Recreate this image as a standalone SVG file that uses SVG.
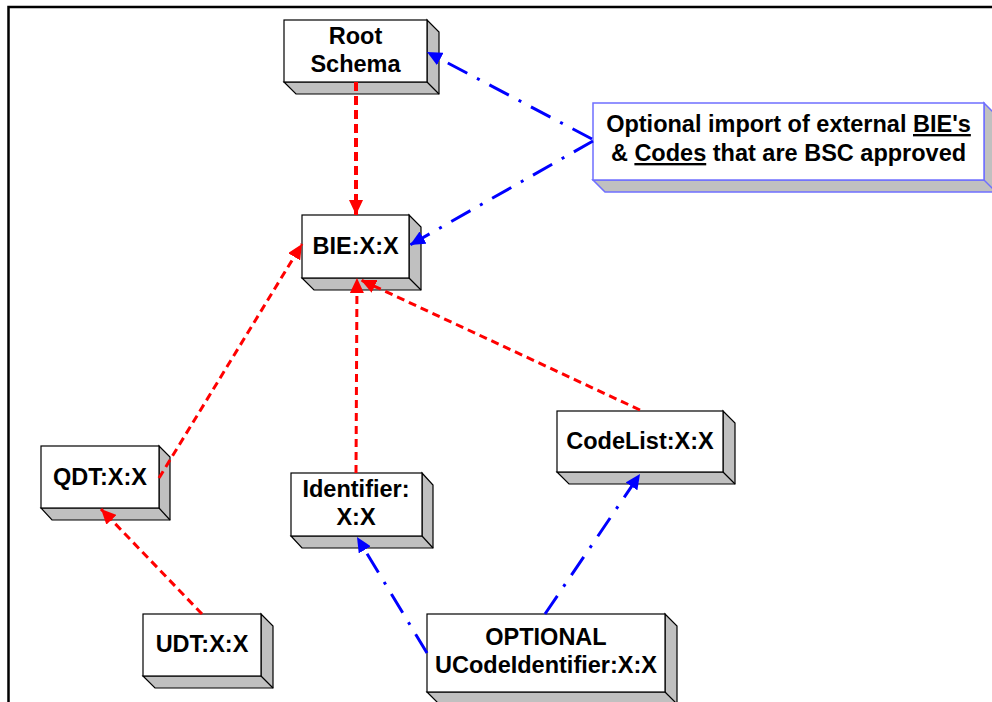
<svg xmlns="http://www.w3.org/2000/svg" width="992" height="702" viewBox="0 0 992 702">
<style>
  .front { fill: #ffffff; stroke: #000000; stroke-width: 1.2; }
  .side { fill: #c0c0c0; stroke: #000000; stroke-width: 1.2; stroke-linejoin: miter; }
  .edge { stroke: #000000; stroke-width: 1.2; }
  .bfront { fill: #ffffff; stroke: #6f6fff; stroke-width: 1.5; }
  .bside { fill: #c0c0c0; stroke: #6f6fff; stroke-width: 1.5; }
  .bedge { stroke: #6f6fff; stroke-width: 1.5; }
  .lbl { font-family: "Liberation Sans", Arial, sans-serif; font-weight: bold; font-size: 23.5px; fill: #000000; text-anchor: middle; }
  .red { fill: none; stroke: #ff0000; stroke-width: 3; stroke-dasharray: 8 5; }
  .redb { fill: none; stroke: #ff0000; stroke-width: 4; stroke-dasharray: 9 5; }
  .blue { fill: none; stroke: #0000ff; stroke-width: 3; stroke-dasharray: 22 11 3 11; }
</style>
<defs>
  <marker id="ar" markerUnits="userSpaceOnUse" markerWidth="16" markerHeight="14" refX="15" refY="7" orient="auto">
    <path d="M0,0 L15,7 L0,14 Z" fill="#ff0000"/>
  </marker>
  <marker id="ab" markerUnits="userSpaceOnUse" markerWidth="16" markerHeight="14" refX="15" refY="7" orient="auto">
    <path d="M0,0 L15,7 L0,14 Z" fill="#0000ff"/>
  </marker>
</defs>
<rect x="0" y="0" width="992" height="702" fill="#ffffff"/>
<rect x="8.5" y="7" width="1010" height="720" fill="none" stroke="#000000" stroke-width="2.5"/>

<g id="root-schema">
  <polygon class="side" points="427,20 439,32 439,94 296,94 284,82 427,82"/>
  <line class="edge" x1="427" y1="82" x2="439" y2="94"/>
  <rect class="front" x="284" y="20" width="143" height="62"/>
  <text class="lbl" x="355.5" y="43.5">Root</text>
  <text class="lbl" x="355.5" y="71.5">Schema</text>
</g>

<g id="optional-import">
  <polygon class="bside" points="984,103 996,115 996,192 605,192 593,180 984,180"/>
  <line class="bedge" x1="984" y1="180" x2="996" y2="192"/>
  <rect class="bfront" x="593" y="103" width="391" height="77"/>
  <text class="lbl" x="788.5" y="132">Optional import of external <tspan text-decoration="underline">BIE's</tspan></text>
  <text class="lbl" x="788.5" y="161">&amp; <tspan text-decoration="underline">Codes</tspan> that are BSC approved</text>
</g>

<g id="bie">
  <polygon class="side" points="409,215 421,227 421,290 314,290 302,278 409,278"/>
  <line class="edge" x1="409" y1="278" x2="421" y2="290"/>
  <rect class="front" x="302" y="215" width="107" height="63"/>
  <text class="lbl" x="355.7" y="254">BIE:X:X</text>
</g>

<g id="qdt">
  <polygon class="side" points="159,446 170,457 170,520 52,520 41,508 159,508"/>
  <line class="edge" x1="159" y1="508" x2="170" y2="520"/>
  <rect class="front" x="41" y="446" width="118" height="62"/>
  <text class="lbl" x="100" y="485">QDT:X:X</text>
</g>

<g id="identifier">
  <polygon class="side" points="422,473 433,485 433,548 302,548 291,536 422,536"/>
  <line class="edge" x1="422" y1="536" x2="433" y2="548"/>
  <rect class="front" x="291" y="473" width="131" height="63"/>
  <text class="lbl" x="356" y="497">Identifier:</text>
  <text class="lbl" x="356" y="525">X:X</text>
</g>

<g id="codelist">
  <polygon class="side" points="723,411 735,423 735,484 569,484 557,472 723,472"/>
  <line class="edge" x1="723" y1="472" x2="735" y2="484"/>
  <rect class="front" x="557" y="411" width="166" height="61"/>
  <text class="lbl" x="640" y="448.5">CodeList:X:X</text>
</g>

<g id="udt">
  <polygon class="side" points="261,614 273,626 273,688 155,688 143,676 261,676"/>
  <line class="edge" x1="261" y1="676" x2="273" y2="688"/>
  <rect class="front" x="143" y="614" width="118" height="62"/>
  <text class="lbl" x="202" y="652">UDT:X:X</text>
</g>

<g id="optional-ucode">
  <polygon class="side" points="665,614 677,626 677,704 439,704 427,692 665,692"/>
  <line class="edge" x1="665" y1="692" x2="677" y2="704"/>
  <rect class="front" x="427" y="614" width="238" height="78"/>
  <text class="lbl" x="546" y="645">OPTIONAL</text>
  <text class="lbl" x="546" y="673">UCodeIdentifier:X:X</text>
</g>

<g id="connectors">
  <line class="redb" x1="356" y1="82" x2="356" y2="215" marker-end="url(#ar)"/>
  <line class="blue" x1="592" y1="139" x2="427" y2="52" marker-end="url(#ab)"/>
  <line class="blue" x1="593" y1="141" x2="410" y2="245" marker-end="url(#ab)"/>
  <line class="red" x1="159" y1="478" x2="302" y2="244" marker-end="url(#ar)"/>
  <line class="red" x1="356" y1="473" x2="357" y2="278" marker-end="url(#ar)"/>
  <line class="red" x1="640" y1="410" x2="361" y2="280" marker-end="url(#ar)"/>
  <line class="red" x1="202" y1="614" x2="101" y2="509" marker-end="url(#ar)"/>
  <line class="blue" x1="427" y1="653" x2="357" y2="537" marker-end="url(#ab)"/>
  <line class="blue" x1="545" y1="614" x2="640" y2="474" marker-end="url(#ab)"/>
</g>
</svg>
